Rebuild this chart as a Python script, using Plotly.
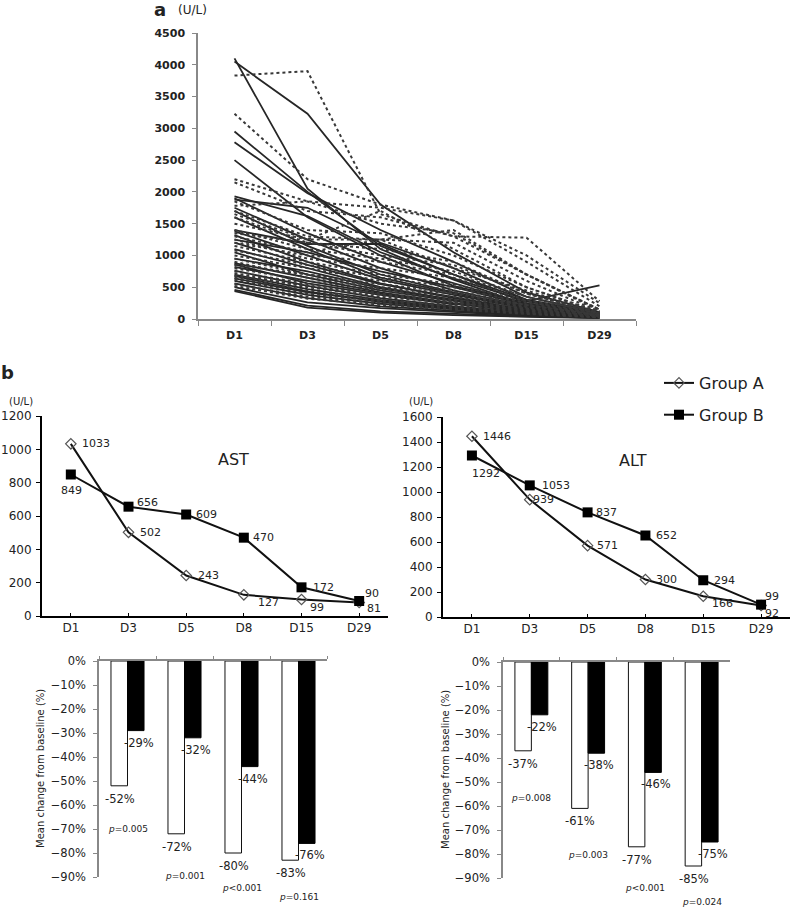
import plotly.graph_objects as go

# ---------------- data ----------------
days = ["D1", "D3", "D5", "D8", "D15", "D29"]

# panel a: individual patients (solid = group A, dotted = group B)
solid_patients = [
    [4100, 2050, 1100, 620, 220, 80],
    [4050, 3230, 1800, 1050, 420, 110],
    [2950, 2000, 1150, 700, 300, 90],
    [2780, 1980, 1400, 900, 350, 100],
    [2500, 1600, 1000, 520, 250, 70],
    [1930, 1620, 1050, 640, 280, 80],
    [1900, 1350, 900, 560, 230, 60],
    [1880, 1750, 1200, 800, 300, 90],
    [1750, 1250, 800, 450, 200, 60],
    [1700, 1150, 700, 420, 180, 50],
    [1600, 1100, 650, 400, 160, 50],
    [1400, 1180, 1180, 700, 250, 70],
    [1380, 1000, 620, 380, 170, 50],
    [1320, 900, 560, 330, 150, 45],
    [1250, 1050, 750, 500, 220, 60],
    [1200, 850, 550, 350, 140, 45],
    [1100, 800, 500, 300, 130, 40],
    [1050, 700, 450, 280, 120, 40],
    [950, 750, 480, 300, 140, 45],
    [880, 650, 420, 250, 110, 35],
    [860, 560, 380, 230, 280, 530],
    [820, 600, 400, 240, 110, 40],
    [760, 520, 330, 200, 100, 35],
    [700, 470, 300, 180, 80, 30],
    [680, 430, 270, 160, 75, 30],
    [640, 420, 280, 170, 80, 30],
    [600, 380, 240, 150, 70, 25],
    [560, 330, 200, 130, 60, 25],
    [500, 260, 170, 110, 50, 20],
    [460, 210, 120, 80, 45, 20],
    [440, 180, 100, 60, 35, 15],
]
dotted_patients = [
    [3830, 3900, 1650, 1300, 700, 150],
    [3230, 2200, 1800, 1550, 1000, 250],
    [2200, 1850, 1750, 1550, 900, 200],
    [2150, 1700, 1600, 1300, 1280, 280],
    [1850, 1400, 1350, 1000, 500, 110],
    [1780, 1850, 1500, 1350, 700, 150],
    [1700, 1300, 1250, 1200, 600, 120],
    [1650, 1250, 1700, 1100, 500, 100],
    [1600, 1200, 1100, 900, 400, 100],
    [1500, 1250, 1250, 800, 450, 90],
    [1400, 1100, 950, 750, 350, 80],
    [1350, 1200, 1000, 850, 400, 90],
    [1300, 1050, 1250, 1400, 700, 130],
    [1250, 950, 800, 650, 300, 70],
    [1200, 1000, 900, 700, 350, 80],
    [1150, 900, 700, 550, 280, 60],
    [1080, 850, 650, 500, 250, 55],
    [1000, 800, 600, 450, 220, 50],
    [950, 700, 500, 400, 200, 50],
    [900, 650, 480, 350, 180, 45],
    [850, 700, 550, 420, 220, 60],
    [800, 600, 450, 300, 160, 40],
    [750, 550, 400, 280, 150, 40],
    [720, 500, 350, 250, 130, 35],
    [680, 520, 380, 260, 140, 40],
    [650, 450, 300, 220, 120, 30],
    [620, 400, 280, 200, 100, 30],
    [550, 350, 250, 170, 90, 25],
    [520, 320, 220, 150, 80, 25],
]

# panel b: means
ast_a = [1033, 502, 243, 127, 99, 81]
ast_b = [849, 656, 609, 470, 172, 90]
alt_a = [1446, 939, 571, 300, 166, 92]
alt_b = [1292, 1053, 837, 652, 294, 99]

change_days = ["D3", "D5", "D8", "D15"]
ast_chg_a = [-52, -72, -80, -83]
ast_chg_b = [-29, -32, -44, -76]
ast_p = ["=0.005", "=0.001", "<0.001", "=0.161"]
alt_chg_a = [-37, -61, -77, -85]
alt_chg_b = [-22, -38, -46, -75]
alt_p = ["=0.008", "=0.003", "<0.001", "=0.024"]

# ---------------- style / layout helpers ----------------
W, H = 793, 909
FONT = "DejaVu Sans"
TXT = "#222222"


def dx(a, b):
    return [a / W, b / W]


def dy(top, bottom):
    return [1 - bottom / H, 1 - top / H]


fig = go.Figure()

# ---- panel a ----
for s in solid_patients:
    fig.add_trace(go.Scatter(x=days, y=s, mode="lines", xaxis="x", yaxis="y",
                             line=dict(color="#262626", width=1.8), showlegend=False,
                             hoverinfo="skip"))
for s in dotted_patients:
    fig.add_trace(go.Scatter(x=days, y=s, mode="lines", xaxis="x", yaxis="y",
                             line=dict(color="#383838", width=2, dash="dot"), showlegend=False,
                             hoverinfo="skip"))

# ---- panel b line charts ----
def add_lines(ax, ay, ya, yb, legend):
    fig.add_trace(go.Scatter(x=days, y=ya, mode="lines+markers", xaxis=ax, yaxis=ay,
                             name="Group A", legendgroup="A", showlegend=legend,
                             line=dict(color="#111111", width=2),
                             marker=dict(symbol="diamond-open", size=8, color="#555555",
                                         line=dict(width=1.2, color="#555555"))))
    fig.add_trace(go.Scatter(x=days, y=yb, mode="lines+markers", xaxis=ax, yaxis=ay,
                             name="Group B", legendgroup="B", showlegend=legend,
                             line=dict(color="#111111", width=2),
                             marker=dict(symbol="square", size=10, color="#000000")))


add_lines("x2", "y2", ast_a, ast_b, False)
add_lines("x3", "y3", alt_a, alt_b, True)

# ---- bar charts ----
def add_bars(ax, ay, va, vb):
    fig.add_trace(go.Bar(x=change_days, y=va, xaxis=ax, yaxis=ay, showlegend=False,
                         marker=dict(color="white", line=dict(color="#111111", width=1))))
    fig.add_trace(go.Bar(x=change_days, y=vb, xaxis=ax, yaxis=ay, showlegend=False,
                         marker=dict(color="black", line=dict(color="black", width=1))))


add_bars("x4", "y4", ast_chg_a, ast_chg_b)
add_bars("x5", "y5", alt_chg_a, alt_chg_b)

annotations = []


def ann(text, x, y, xref, yref, size, xshift=0, yshift=0, **kw):
    d = dict(text=text, x=x, y=y, xref=xref, yref=yref, showarrow=False,
             xanchor="center", yanchor="middle",
             xshift=xshift, yshift=yshift, font=dict(family=FONT, size=size, color=TXT))
    d.update(kw)
    annotations.append(d)


# line-chart value labels (offsets in px)
ast_a_off = [(25, 0), (22, 0), (22, 0), (25, -8), (15, -8), (15, -6)]
ast_b_off = [(1, -16), (19, 4), (20, 0), (20, 0), (22, 0), (13, 8)]
alt_a_off = [(25, 0), (14, 0), (20, 0), (21, 0), (19, -7), (11, -8)]
alt_b_off = [(14, -18), (26, 0), (19, 0), (21, 0), (21, 0), (11, 8)]
for vals, offs, xr, yr in [(ast_a, ast_a_off, "x2", "y2"), (ast_b, ast_b_off, "x2", "y2"),
                           (alt_a, alt_a_off, "x3", "y3"), (alt_b, alt_b_off, "x3", "y3")]:
    for d, v, (ox, oy) in zip(days, vals, offs):
        ann(str(v), d, v, xr, yr, 11, ox, oy)

# bar labels
ast_p_dy = [-43, -42, -35, -37]
alt_p_dy = [-47, -47, -41, -36]
for va, vb, pv, pdy, xr, yr in [(ast_chg_a, ast_chg_b, ast_p, ast_p_dy, "x4", "y4"),
                                (alt_chg_a, alt_chg_b, alt_p, alt_p_dy, "x5", "y5")]:
    for d, a, b, p, sdy in zip(change_days, va, vb, pv, pdy):
        ann(f"{a}%", d, a, xr, yr, 11.5, -8, -13)
        ann(f"{b}%", d, b, xr, yr, 11.5, 11, -12)
        ann("<i>p</i>" + p.replace("<", "&lt;"), d, a, xr, yr, 9, 0, sdy)

# static text
ann("<b>a</b>", 160 / W, 1 - 9 / H, "paper", "paper", 18)
ann("(U/L)", 192 / W, 1 - 10 / H, "paper", "paper", 12)
ann("<b>b</b>", 7 / W, 1 - 372 / H, "paper", "paper", 18)
ann("(U/L)", 21 / W, 1 - 401 / H, "paper", "paper", 10)
ann("(U/L)", 421 / W, 1 - 401 / H, "paper", "paper", 10)
ann("AST", 233 / W, 1 - 459 / H, "paper", "paper", 16)
ann("ALT", 633 / W, 1 - 460 / H, "paper", "paper", 16)
ann("Mean change from baseline (%)", 40 / W, 1 - 769 / H, "paper", "paper", 10, textangle=-90)
ann("Mean change from baseline (%)", 445 / W, 1 - 769 / H, "paper", "paper", 10, textangle=-90)

tick_font = dict(family=FONT, size=12, color=TXT)

fig.update_layout(
    width=W, height=H, margin=dict(l=0, r=0, t=0, b=0, autoexpand=False),
    paper_bgcolor="white", plot_bgcolor="white",
    barmode="group", bargap=0.42, bargroupgap=0,
    annotations=annotations,
    legend=dict(x=659 / W, y=1 - 366 / H, xanchor="left", yanchor="top",
                font=dict(family=FONT, size=16, color=TXT), bgcolor="rgba(0,0,0,0)",
                tracegroupgap=8, itemwidth=30),
    # panel a
    xaxis=dict(domain=dx(198, 636), anchor="y", type="category", categoryarray=days,
               range=[-0.5, 5.5], showline=True, linecolor="#888888", linewidth=1.5,
               ticks="outside", tickson="boundaries", ticklen=5, tickcolor="#888888",
               ticklabelstandoff=5,
               tickfont=dict(family=FONT, size=11, color=TXT, weight="bold"), showgrid=False,
               automargin=False),
    yaxis=dict(domain=dy(33, 319), anchor="x", range=[0, 4500], dtick=500,
               showline=True, linecolor="#888888", linewidth=1.5, ticks="outside",
               ticklen=4, tickcolor="#888888", showgrid=False, zeroline=False,
               ticklabelstandoff=5,
               tickfont=dict(family=FONT, size=11, color=TXT, weight="bold"), automargin=False),
    # AST line
    xaxis2=dict(domain=dx(42, 388), anchor="y2", type="category", categoryarray=days,
                range=[-0.5, 5.5], showline=True, linecolor="black", linewidth=2,
                ticks="inside", ticklen=3, tickcolor="black", tickfont=tick_font, showgrid=False,
                automargin=False),
    yaxis2=dict(domain=dy(416, 616), anchor="x2", range=[0, 1200], dtick=200,
                showline=True, linecolor="black", linewidth=2, ticks="outside", ticklen=4,
                tickcolor="black", showgrid=False, zeroline=False, tickfont=tick_font,
                ticklabelstandoff=2, automargin=False),
    # ALT line
    xaxis3=dict(domain=dx(443, 790), anchor="y3", type="category", categoryarray=days,
                range=[-0.5, 5.5], showline=True, linecolor="black", linewidth=2,
                ticks="inside", ticklen=3, tickcolor="black", tickfont=tick_font, showgrid=False,
                automargin=False),
    yaxis3=dict(domain=dy(417, 617), anchor="x3", range=[0, 1600], dtick=200,
                showline=True, linecolor="black", linewidth=2, ticks="outside", ticklen=4,
                tickcolor="black", showgrid=False, zeroline=False, tickfont=tick_font,
                ticklabelstandoff=2, automargin=False),
    # AST bars
    xaxis4=dict(domain=dx(99, 327), anchor="y4", side="top", type="category",
                categoryarray=change_days, range=[-0.5, 3.5], showline=True,
                linecolor="#888888", linewidth=1.5, ticks="outside", tickson="boundaries",
                ticklen=3, tickcolor="#888888", showticklabels=False, showgrid=False,
                automargin=False),
    yaxis4=dict(domain=dy(661, 877), anchor="x4", range=[-90, 0], dtick=10, ticksuffix="%",
                showline=True, linecolor="#888888", linewidth=1.5, ticks="outside", ticklen=4,
                tickcolor="#888888", showgrid=False, zeroline=False, ticklabelstandoff=5,
                tickfont=dict(family=FONT, size=11.5, color=TXT), automargin=False),
    # ALT bars
    xaxis5=dict(domain=dx(503, 730), anchor="y5", side="top", type="category",
                categoryarray=change_days, range=[-0.5, 3.5], showline=True,
                linecolor="#888888", linewidth=1.5, ticks="outside", tickson="boundaries",
                ticklen=3, tickcolor="#888888", showticklabels=False, showgrid=False,
                automargin=False),
    yaxis5=dict(domain=dy(662, 878), anchor="x5", range=[-90, 0], dtick=10, ticksuffix="%",
                showline=True, linecolor="#888888", linewidth=1.5, ticks="outside", ticklen=4,
                tickcolor="#888888", showgrid=False, zeroline=False, ticklabelstandoff=5,
                tickfont=dict(family=FONT, size=11.5, color=TXT), automargin=False),
)

fig.write_html("out.html", config={"displayModeBar": False},
               post_script="document.body.style.margin='0';")
